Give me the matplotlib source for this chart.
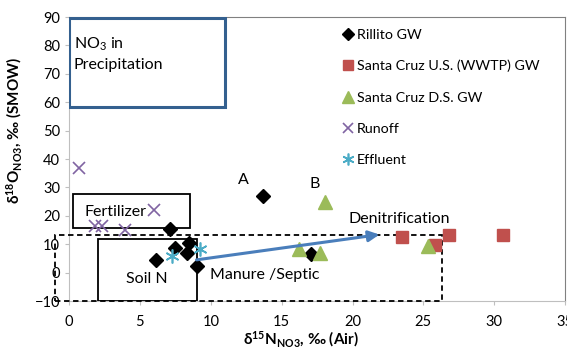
import matplotlib
matplotlib.use('Agg')
import matplotlib.pyplot as plt
from matplotlib.patches import Rectangle

plt.rcParams['font.family'] = ['Lato', 'DejaVu Sans']
plt.rcParams['mathtext.fontset'] = 'custom'
plt.rcParams['mathtext.rm'] = 'Lato'
plt.rcParams['mathtext.bf'] = 'Lato:bold'
plt.rcParams['mathtext.it'] = 'Lato:italic'

# ---- data ----
rillito_x = [13.7, 7.1, 7.5, 8.45, 8.3, 9.0, 6.15, 17.1]
rillito_y = [27.0, 15.2, 8.7, 10.6, 6.8, 2.5, 4.6, 6.7]

wwtp_x = [23.5, 25.8, 26.8, 30.6]
wwtp_y = [12.5, 9.6, 13.4, 13.4]

ds_x = [18.05, 16.2, 17.7, 25.3]
ds_y = [25.0, 8.3, 6.9, 9.5]

runoff_x = [0.7, 6.0, 1.85, 2.3, 3.95]
runoff_y = [36.8, 22.2, 16.3, 16.3, 15.0]

effluent_x = [7.3, 9.25]
effluent_y = [5.8, 8.3]

# source boxes: (x0, y0, width, height)
precip_box = (0.0, 58.5, 11.0, 31.0)
fert_box = (0.25, 15.8, 8.3, 11.8)
soil_box = (2.05, -10.0, 7.0, 21.8)
manure_box = (-1.0, -10.0, 27.3, 23.3)

arrow_start = (9.0, 4.5)
arrow_end = (21.9, 13.4)

fig = plt.figure(figsize=(5.67, 3.48), dpi=100)
ax = fig.add_axes([0.1217, 0.135, 0.875, 0.816])

ax.set_xlim(0, 35)
ax.set_ylim(-10, 90)
ax.set_xticks(range(0, 36, 5))
ax.set_yticks(range(-10, 91, 10))
for s in ax.spines.values():
    s.set_color('#bfbfbf')
ax.spines['top'].set_color('#808080')
ax.spines['right'].set_color('#808080')
ax.tick_params(labelsize=10.5, colors='#bfbfbf', labelcolor='black', length=3)
ax.tick_params(axis='x', pad=7)

# boxes
ax.add_patch(Rectangle(precip_box[:2], precip_box[2], precip_box[3],
                       fill=False, ec='#34608f', lw=2.2, zorder=3))
ax.add_patch(Rectangle(fert_box[:2], fert_box[2], fert_box[3],
                       fill=False, ec='black', lw=1.3, zorder=3))
ax.add_patch(Rectangle(soil_box[:2], soil_box[2], soil_box[3],
                       fill=False, ec='black', lw=1.3, zorder=3))
ax.add_patch(Rectangle(manure_box[:2], manure_box[2], manure_box[3],
                       fill=False, ec='black', lw=1.3, ls=(0, (3, 2)),
                       zorder=3, clip_on=False))

# series
ax.plot(rillito_x, rillito_y, 'D', color='black', ms=7, ls='none',
        label='Rillito GW', zorder=5)
ax.plot(wwtp_x, wwtp_y, 's', color='#c0504d', ms=9, ls='none',
        label='Santa Cruz U.S. (WWTP) GW', zorder=4)
ax.plot(ds_x, ds_y, '^', color='#9bbb59', ms=10, ls='none',
        label='Santa Cruz D.S. GW', zorder=5)
ax.plot(runoff_x, runoff_y, 'x', color='#8064a2', ms=9, mew=1.2, ls='none',
        label='Runoff', zorder=5)
ax.plot(effluent_x, effluent_y, marker=(6, 2, 0), color='#4bacc6', ms=10,
        mew=1.2, ls='none', label='Effluent', zorder=5)

# denitrification arrow
ax.annotate('', xy=arrow_end, xytext=arrow_start,
            arrowprops=dict(arrowstyle='-|>', color='#4a7ebb', lw=2.2,
                            mutation_scale=16, shrinkA=0, shrinkB=0),
            zorder=6)

# labels
fs = 11.5
ax.text(0.35, 77, 'NO$_3$ in\nPrecipitation', fontsize=fs, va='center',
        ha='left', linespacing=1.4)
ax.text(3.3, 21.5, 'Fertilizer', fontsize=fs, ha='center', va='center')
ax.text(5.5, -2.2, 'Soil N', fontsize=fs, ha='center', va='center')
ax.text(9.95, -1.0, 'Manure /Septic', fontsize=fs, ha='left', va='center')
ax.text(19.75, 18.8, 'Denitrification', fontsize=fs, ha='left', va='center')
ax.text(12.3, 32.7, 'A', fontsize=fs, ha='center', va='center')
ax.text(17.3, 31.2, 'B', fontsize=fs, ha='center', va='center')

ax.set_xlabel(r'$\mathbf{\delta^{15}N_{NO3}}$, ‰ (Air)', fontsize=11,
              fontweight='bold')
ax.set_ylabel(r'$\mathbf{\delta^{18}O_{NO3}}$, ‰ (SMOW)', fontsize=11,
              fontweight='bold')
ax.xaxis.set_label_coords(0.468, -0.1)
ax.yaxis.set_label_coords(-0.09, 0.6)

ax.legend(loc='upper left', bbox_to_anchor=(0.525, 1.005), frameon=False,
          fontsize=10.3, handlelength=0.8, handletextpad=0.2,
          labelspacing=1.35, markerscale=0.85)

fig.savefig('out.png', dpi=100)
